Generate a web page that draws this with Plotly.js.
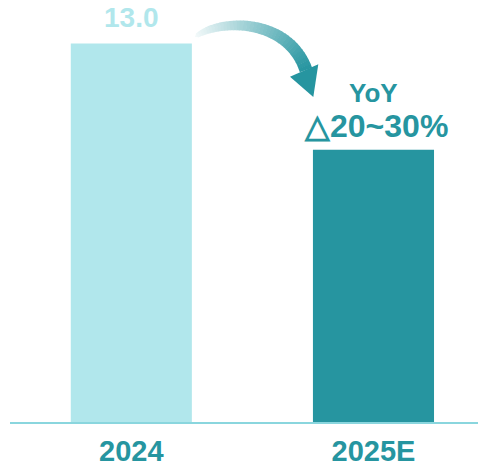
<!DOCTYPE html>
<html>
<head>
<meta charset="utf-8">
<script src="https://cdn.plot.ly/plotly-3.0.1.min.js"></script>
<style>html,body{margin:0;padding:0;background:#fff;}#chart{width:478px;height:467px;}</style>
</head>
<body>
<div id="chart"></div>
<script>
// ---- data ----
const categories = ['2024', '2025E'];
const values = [13.0, 9.35];
const valueLabels = ['13.0', ''];
const yoyLabel = 'YoY';
const changeLabel = '△20~30%';

// ---- styles ----
const LIGHT = '#b1e7ec';
const TEAL = '#2695a0';
const AXIS = '#8ad6de';
const FONT = 'Liberation Sans, Arial, sans-serif';

const W = 478, H = 467;
const M = {l: 10, r: 0, t: 0, b: 45};
const PW = W - M.l - M.r, PH = H - M.t - M.b;
function px2paper(x, y) { return [(x - M.l) / PW, (M.t + PH - y) / PH]; }

// decorative curved arrow (pixel geometry -> paper coords)
const P0 = [195, 37], P1 = [220, 18], P2 = [288, 18], P3 = [306, 70];
function bez(t) {
  const a = (1 - t) ** 3, b = 3 * (1 - t) ** 2 * t, c = 3 * (1 - t) * t * t, d = t ** 3;
  return [a * P0[0] + b * P1[0] + c * P2[0] + d * P3[0], a * P0[1] + b * P1[1] + c * P2[1] + d * P3[1]];
}
function dbez(t) {
  const a = 3 * (1 - t) ** 2, b = 6 * (1 - t) * t, c = 3 * t * t;
  return [a * (P1[0] - P0[0]) + b * (P2[0] - P1[0]) + c * (P3[0] - P2[0]),
          a * (P1[1] - P0[1]) + b * (P2[1] - P1[1]) + c * (P3[1] - P2[1])];
}
function edge(t) {
  const C = bez(t), D = dbez(t), L = Math.hypot(D[0], D[1]);
  const n = [D[1] / L, -D[0] / L];
  const w = 13 * Math.pow(t, 0.3) / 2;
  return {o: [C[0] + n[0] * w, C[1] + n[1] * w], i: [C[0] - n[0] * w, C[1] - n[1] * w]};
}
function mix(f) {
  const r = Math.round(255 + (38 - 255) * f), g = Math.round(255 + (149 - 255) * f), b = Math.round(255 + (160 - 255) * f);
  return `rgb(${r},${g},${b})`;
}
function path(pts) {
  return 'M' + pts.map(p => { const q = px2paper(p[0], p[1]); return q[0].toFixed(5) + ',' + q[1].toFixed(5); }).join('L') + 'Z';
}
const shapes = [];
const N = 40;
for (let k = 0; k < N; k++) {
  const t0 = k / N, t1 = Math.min(1, (k + 1.15) / N);
  const e0 = edge(t0), e1 = edge(t1);
  const f = Math.pow((k + 0.5) / N, 1.1) * 0.95 + 0.05;
  shapes.push({type: 'path', xref: 'paper', yref: 'paper', path: path([e0.o, e1.o, e1.i, e0.i]),
    fillcolor: mix(f), line: {width: 0}, layer: 'above'});
}
shapes.push({type: 'path', xref: 'paper', yref: 'paper',
  path: path([[290, 76.7], [318.3, 64.3], [313.3, 97]]), fillcolor: TEAL, line: {width: 0}, layer: 'above'});

const trace = {
  type: 'bar', x: categories, y: values, width: 0.5,
  marker: {color: [LIGHT, TEAL], line: {width: 0}},
  hoverinfo: 'none'
};

const layout = {
  width: W, height: H, margin: M,
  paper_bgcolor: '#ffffff', plot_bgcolor: '#ffffff',
  showlegend: false,
  xaxis: {type: 'category', range: [-0.501, 1.4316], showline: true, linecolor: AXIS, linewidth: 2,
    ticks: '', ticklabelstandoff: 2, showgrid: false, zeroline: false, fixedrange: true,
    tickfont: {family: FONT, size: 29, color: TEAL, weight: 'bold'}},
  yaxis: {range: [0, 14.494], visible: false, fixedrange: true},
  shapes: shapes,
  annotations: [
    {x: 0, y: values[0], xref: 'x', yref: 'y', text: valueLabels[0], showarrow: false, borderpad: 0,
     yanchor: 'bottom', yshift: 10, font: {family: FONT, size: 28, color: LIGHT, weight: 'bold'}},
    {x: 1, y: 11.3, xref: 'x', yref: 'y', text: yoyLabel, showarrow: false,
     yanchor: 'middle', font: {family: FONT, size: 26, color: TEAL, weight: 'bold'}},
    {x: 1, y: 10.15, xref: 'x', yref: 'y', text: changeLabel, showarrow: false, xshift: 3,
     yanchor: 'middle', font: {family: FONT, size: 32, color: TEAL, weight: 'bold'}}
  ]
};

Plotly.newPlot('chart', [trace], layout, {staticPlot: true, displayModeBar: false});
</script>
</body>
</html>
